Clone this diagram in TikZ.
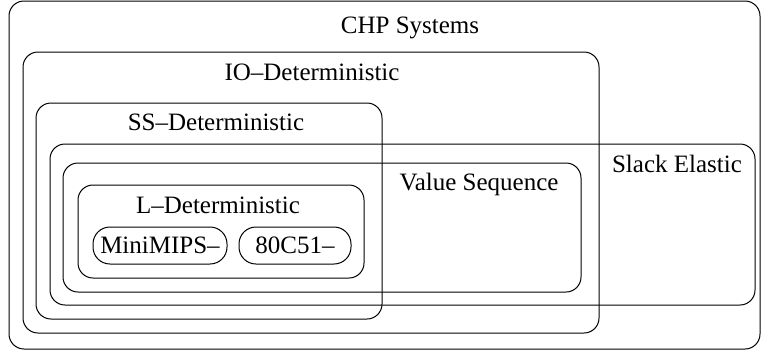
\documentclass[tikz,border=0pt]{standalone}
\usepackage{fontspec}
\setmainfont{Liberation Serif}
\newcommand{\setFont}[0]{\fontsize{25}{30}\selectfont}

\begin{document}
\begin{tikzpicture}[x=1pt, y=-1pt]
  \tikzset{setbox/.style={draw, line width=1pt, rounded corners=15pt},
           setname/.style={font=\setFont, anchor=base, inner sep=0pt},
           cpubox/.style={draw, line width=1pt, rounded corners=17pt,
                          minimum height=37pt, inner sep=0pt, font=\setFont}}
  \useasboundingbox (0,0) rectangle (762,351);
  % nested classes
  \draw[setbox] (9,1) rectangle (760,349);
  \draw[setbox] (23,52) rectangle (599,333);
  \draw[setbox] (36,103) rectangle (382,319);
  \draw[setbox] (50,144) rectangle (755,305);
  \draw[setbox] (63,163) rectangle (581,292);
  \draw[setbox] (78,185) rectangle (364,278);
  % class names
  \node[setname] (chp) at (410,33) {CHP Systems};
  \node[setname] (io) at (312,80) {IO--Deterministic};
  \node[setname] (ss) at (216,130) {SS--Deterministic};
  \node[setname] (slack) at (677,172) {Slack Elastic};
  \node[setname] (valseq) at (479,190) {Value Sequence};
  \node[setname] (ldet) at (218,213) {L--Deterministic};
  % designs
  \node[cpubox, minimum width=134pt] (minimips) at (160,245.5) {MiniMIPS--};
  \node[cpubox, minimum width=112pt] (c51) at (295,245.5) {80C51--};
\end{tikzpicture}
\end{document}
